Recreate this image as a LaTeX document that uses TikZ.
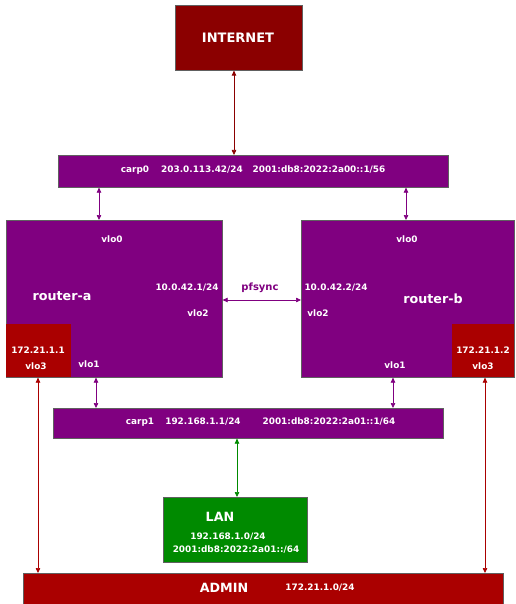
\documentclass[tikz,border=0pt]{standalone}
\usepackage{fontspec}
\setmainfont{DejaVu Sans}
\usetikzlibrary{arrows.meta,calc}
\definecolor{purp}{HTML}{800080}
\definecolor{dred}{HTML}{8B0000}
\definecolor{adm}{HTML}{AA0000}
\definecolor{lanc}{HTML}{008A00}
\definecolor{edgec}{HTML}{606060}
\tikzset{
  box/.style={draw=edgec, line width=0.6pt, inner sep=0pt, anchor=north west},
  lbl/.style={text=white, font=\bfseries\fontsize{8.9}{10}\selectfont, inner sep=0pt},
  big/.style={text=white, font=\bfseries\fontsize{12.7}{14}\selectfont, inner sep=0pt},
  arr/.style={line width=0.7pt, {Triangle[length=5pt,width=4.5pt]}-{Triangle[length=5pt,width=4.5pt]}},
}
\begin{document}
\begin{tikzpicture}[x=1pt,y=-1pt]
\useasboundingbox (0,0) rectangle (515,604);
% boxes
\node[box, fill=dred, minimum width=127pt, minimum height=65pt] (inet) at (175,5) {};
\node[box, fill=purp, minimum width=390pt, minimum height=32pt] (carp0) at (58,155) {};
\node[box, fill=purp, minimum width=216pt, minimum height=157pt] (ra) at (6,220) {};
\node[box, fill=purp, minimum width=213pt, minimum height=157pt] (rb) at (301,220) {};
\node[box, fill=adm, draw=none, minimum width=65pt, minimum height=53pt] (aa) at (6,324) {};
\node[box, fill=adm, draw=none, minimum width=62pt, minimum height=53pt] (ab) at (452,324) {};
\node[box, fill=purp, minimum width=390pt, minimum height=30pt] (carp1) at (53,408) {};
\node[box, fill=lanc, minimum width=144pt, minimum height=65pt] (lan) at (163,497) {};
\node[box, fill=adm, minimum width=480pt, minimum height=32pt] (admin) at (23,573) {};
% texts
\node[text=white, font=\bfseries\fontsize{13}{15}\selectfont, inner sep=0pt] (tinet) at (238,38) {INTERNET};
\node[lbl] (c0a) at (135,170) {carp0};
\node[lbl] (c0b) at (202,170) {203.0.113.42/24};
\node[lbl] (c0c) at (319,170) {2001:db8:2022:2a00::1/56};
\node[lbl] (ra0) at (112,239) {vlo0};
\node[big] (ran) at (62,296) {router-a};
\node[lbl] (raip) at (187,288) {10.0.42.1/24};
\node[lbl] (ra2) at (198,313) {vlo2};
\node[lbl] (ra1) at (89,364) {vlo1};
\node[lbl] (aaip) at (38,350) {172.21.1.1};
\node[lbl] (aa3) at (36,366) {vlo3};
\node[lbl] (rb0) at (407,239) {vlo0};
\node[lbl] (rbip) at (336,288) {10.0.42.2/24};
\node[lbl] (rb2) at (318,313) {vlo2};
\node[big] (rbn) at (433,299) {router-b};
\node[lbl] (rb1) at (395,365) {vlo1};
\node[lbl] (abip) at (483,350) {172.21.1.2};
\node[lbl] (ab3) at (483,366) {vlo3};
\node[text=purp, font=\bfseries\fontsize{10}{12}\selectfont, inner sep=0pt] (pf) at (260,288) {pfsync};
\node[lbl] (c1a) at (140,422) {carp1};
\node[lbl] (c1b) at (203,422) {192.168.1.1/24};
\node[lbl] (c1c) at (329,422) {2001:db8:2022:2a01::1/64};
\node[big] (tlan) at (220,517) {LAN};
\node[lbl] (lan1) at (228,537) {192.168.1.0/24};
\node[lbl] (lan2) at (236,550) {2001:db8:2022:2a01::/64};
\node[big] (tadm) at (224,588) {ADMIN};
\node[lbl] (admip) at (320,588) {172.21.1.0/24};
% connector x positions
\coordinate (xi) at (234,0);
\coordinate (xa0) at (99,0);
\coordinate (xb0) at (406,0);
\coordinate (xa1) at (96,0);
\coordinate (xb1) at (393,0);
\coordinate (xl) at (237,0);
\coordinate (xaa) at (38,0);
\coordinate (xab) at (485,0);
\coordinate (ypf) at (0,300);
% connectors
\draw[arr, dred] (inet.south -| xi) -- (carp0.north -| xi);
\draw[arr, purp] (carp0.south -| xa0) -- (ra.north -| xa0);
\draw[arr, purp] (carp0.south -| xb0) -- (rb.north -| xb0);
\draw[arr, purp] (ra.south -| xa1) -- (carp1.north -| xa1);
\draw[arr, purp] (rb.south -| xb1) -- (carp1.north -| xb1);
\draw[arr, purp] (ra.east |- ypf) -- (rb.west |- ypf);
\draw[arr, lanc] (carp1.south -| xl) -- (lan.north -| xl);
\draw[arr, adm] (aa.south -| xaa) -- (admin.north -| xaa);
\draw[arr, adm] (ab.south -| xab) -- (admin.north -| xab);
\end{tikzpicture}
\end{document}
